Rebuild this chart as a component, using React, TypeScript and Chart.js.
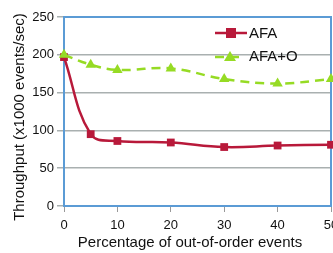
import React, { useEffect, useRef } from "react";
import { Chart, registerables } from "chart.js";

Chart.register(...registerables);

const xValues = [0, 5, 10, 20, 30, 40, 50];
const afaValues = [197, 95, 86, 84, 78, 80, 81];
const afaOValues = [200, 187, 180, 182, 168, 162, 168];
const seriesNames = ["AFA", "AFA+O"];
const xTitle = "Percentage of out-of-order events";
const yTitle = "Throughput (x1000 events/sec)";

const RED = "#b8193a";
const GREEN = "#96db24";
const BLUE = "#5b9bd5";
const FONT = "'Liberation Sans', Arial, sans-serif";

export default function App() {
  const ref = useRef<HTMLCanvasElement>(null);
  useEffect(() => {
    if (!ref.current) return;
    const overlay = {
      id: "overlay",
      beforeDatasetsDraw(chart: any) {
        const { ctx, chartArea: a } = chart;
        ctx.save();
        ctx.strokeStyle = BLUE;
        ctx.lineWidth = 2;
        ctx.strokeRect(a.left, a.top, a.right - a.left, a.bottom - a.top);
        ctx.restore();
      },
      afterDraw(chart: any) {
        const { ctx } = chart;
        ctx.save();
        ctx.fillStyle = "#111";
        ctx.font = `15px ${FONT}`;
        ctx.textAlign = "center";
        ctx.textBaseline = "middle";
        ctx.fillText(xTitle, 190, 243);
        ctx.translate(19.5, 117);
        ctx.rotate(-Math.PI / 2);
        ctx.fillText(yTitle, 0, 0);
        ctx.restore();

        // legend
        ctx.save();
        ctx.font = `15px ${FONT}`;
        ctx.textAlign = "left";
        ctx.textBaseline = "middle";
        ctx.fillStyle = "#111";
        // AFA
        ctx.strokeStyle = RED;
        ctx.lineWidth = 2.5;
        ctx.beginPath();
        ctx.moveTo(215, 33);
        ctx.lineTo(247, 33);
        ctx.stroke();
        ctx.fillStyle = RED;
        ctx.fillRect(226, 28, 10, 10);
        ctx.fillStyle = "#111";
        ctx.fillText(seriesNames[0], 249, 34);
        // AFA+O
        ctx.strokeStyle = GREEN;
        ctx.setLineDash([9, 6]);
        ctx.beginPath();
        ctx.moveTo(215, 57);
        ctx.lineTo(244, 57);
        ctx.stroke();
        ctx.setLineDash([]);
        ctx.fillStyle = GREEN;
        ctx.beginPath();
        ctx.moveTo(230, 51);
        ctx.lineTo(236, 61);
        ctx.lineTo(224, 61);
        ctx.closePath();
        ctx.fill();
        ctx.fillStyle = "#111";
        ctx.fillText(seriesNames[1], 249, 57);
        ctx.restore();
      },
    };
    const chart = new Chart(ref.current, {
      type: "line",
      data: {
        datasets: [
          {
            label: seriesNames[1],
            data: xValues.map((x, i) => ({ x, y: afaOValues[i] })),
            borderColor: GREEN,
            backgroundColor: GREEN,
            borderWidth: 2.5,
            borderDash: [9, 6],
            pointStyle: "triangle",
            pointRadius: 6,
            pointBorderWidth: 0,
            tension: 0.4,
            clip: false,
          },
          {
            label: seriesNames[0],
            data: xValues.map((x, i) => ({ x, y: afaValues[i] })),
            borderColor: RED,
            backgroundColor: RED,
            borderWidth: 2.5,
            pointStyle: "rect",
            pointRadius: 5.5,
            pointBorderWidth: 0,
            tension: 0.4,
            clip: false,
          },
        ],
      },
      options: {
        animation: false,
        responsive: false,
        devicePixelRatio: 1,
        layout: { padding: { top: 17, right: 14, left: 0, bottom: 0 } },
        plugins: { legend: { display: false }, tooltip: { enabled: false } },
        scales: {
          x: {
            type: "linear",
            min: 0,
            max: 50,
            afterFit: (s: any) => {
              s.height = 47;
            },
            ticks: { stepSize: 10, color: "#111", font: { size: 13, family: FONT }, padding: 6, maxRotation: 0 },
            grid: { drawOnChartArea: false, drawTicks: true, tickLength: 6, color: "#999" },
            border: { display: true, color: BLUE, width: 2 },
          },
          y: {
            min: 0,
            max: 250,
            afterFit: (s: any) => {
              s.width = 64;
            },
            ticks: { stepSize: 50, color: "#111", font: { size: 13, family: FONT }, padding: 3 },
            grid: { color: "#a9b0b0", lineWidth: 1.5, tickLength: 7, drawTicks: true },
            border: { display: true, color: BLUE, width: 2 },
          },
        },
      },
      plugins: [overlay],
    });
    return () => chart.destroy();
  }, []);
  return (
    <div style={{ position: "fixed", left: 0, top: 0, width: 333, height: 253, overflow: "hidden", background: "#fff" }}>
      <canvas ref={ref} width={345} height={253} style={{ display: "block", width: 345, height: 253 }} />
    </div>
  );
}
